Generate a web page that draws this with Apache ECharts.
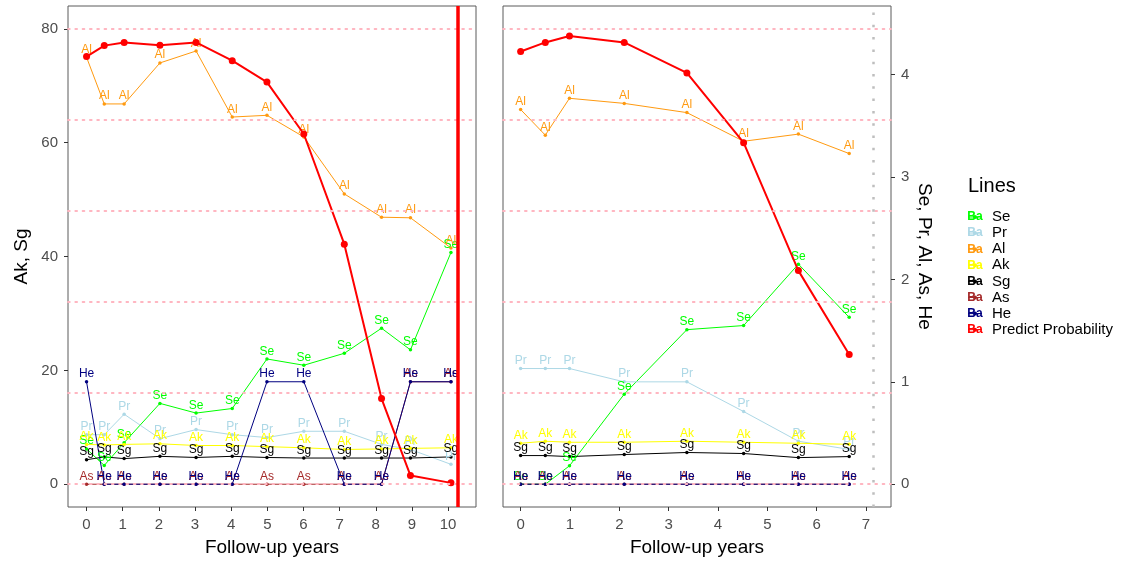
<!DOCTYPE html>
<html>
<head>
<meta charset="utf-8">
<script src="https://cdn.jsdelivr.net/npm/echarts@6/dist/echarts.min.js"></script>
<style>
  html, body { margin: 0; padding: 0; background: #ffffff; }
  #chart { width: 1135px; height: 564px; }
</style>
</head>
<body>
<div id="chart"></div>
<script>
// ---- Left panel (full follow-up) ----
const yearsLeft = [0, 0.49, 1.04, 2.03, 3.03, 4.03, 4.99, 6.01, 7.13, 8.16, 8.96, 10.08];
const leftSe = [6.2, 3.3, 7.3, 14.2, 12.5, 13.3, 22.0, 20.9, 23.0, 27.4, 23.6, 40.7];
const leftPr = [8.7, 8.7, 12.3, 8.0, 9.6, 8.7, 8.2, 9.3, 9.3, 7.0, 6.1, 3.5];
const leftAl = [75.0, 66.8, 66.8, 74.0, 76.1, 64.5, 64.8, 61.0, 51.0, 46.9, 46.8, 41.5];
const leftAk = [7.0, 6.9, 7.0, 7.1, 6.8, 6.8, 6.6, 6.4, 6.1, 6.2, 6.3, 6.4];
const leftSg = [4.3, 4.8, 4.5, 4.9, 4.7, 4.9, 4.7, 4.6, 4.6, 4.6, 4.6, 4.8];
const leftAs = [0, 0, 0, 0, 0, 0, 0, 0, 0, 0, 18, 18];
const leftHe = [18, 0, 0, 0, 0, 0, 18, 18, 0, 0, 18, 18];
const leftProb = [0.939, 0.963, 0.970, 0.964, 0.970, 0.930, 0.883, 0.769, 0.527, 0.188, 0.019, 0.003];
const leftCutoff = 10.26;

// ---- Right panel ----
const yearsRight = [0, 0.5, 0.99, 2.1, 3.37, 4.52, 5.63, 6.66];
const rightSe = [0, 0, 0.18, 0.88, 1.51, 1.55, 2.15, 1.63];
const rightPr = [1.13, 1.13, 1.13, 1.0, 1.0, 0.71, 0.42, 0.34];
const rightAl = [3.66, 3.41, 3.77, 3.72, 3.63, 3.35, 3.42, 3.23];
const rightAk = [0.40, 0.42, 0.41, 0.41, 0.42, 0.41, 0.40, 0.39];
const rightSg = [0.28, 0.28, 0.27, 0.29, 0.31, 0.30, 0.26, 0.27];
const rightAs = [0, 0, 0, 0, 0, 0, 0, 0];
const rightHe = [0, 0, 0, 0, 0, 0, 0, 0];
const rightProb = [0.950, 0.970, 0.984, 0.970, 0.903, 0.750, 0.469, 0.285];
const rightCutoff = 7.15;

// ---- Axis ticks ----
const leftXTicks = [0, 1, 2, 3, 4, 5, 6, 7, 8, 9, 10];
const rightXTicks = [0, 1, 2, 3, 4, 5, 6, 7];
const leftYTicks = [0, 20, 40, 60, 80];
const rightYTicks = [0, 1, 2, 3, 4];
const probGuides = [0, 0.2, 0.4, 0.6, 0.8, 1.0];

const markerNames = ['Se', 'Pr', 'Al', 'Ak', 'Sg', 'As', 'He'];
const legendNames = ['Se', 'Pr', 'Al', 'Ak', 'Sg', 'As', 'He', 'Predict Probability'];
const colors = {
  'Se': '#00FF00', 'Pr': '#ADD8E6', 'Al': '#FF9A10', 'Ak': '#FFFF00',
  'Sg': '#000000', 'As': '#A52A2A', 'He': '#000080', 'Predict Probability': '#FF0000'
};

const FONT = 'Liberation Sans, Arial, sans-serif';
const leftMarkers = { Se: leftSe, Pr: leftPr, Al: leftAl, Ak: leftAk, Sg: leftSg, As: leftAs, He: leftHe };
const rightMarkers = { Se: rightSe, Pr: rightPr, Al: rightAl, Ak: rightAk, Sg: rightSg, As: rightAs, He: rightHe };

// right-axis units per unit of probability, so both panels share the guide lines
const RIGHT_SCALE = 4.449;

function pairs(xs, ys) { return xs.map((x, i) => [x, ys[i]]); }

function markerSeries(name, xs, ys, xi, yi) {
  return {
    type: 'line', name: name, xAxisIndex: xi, yAxisIndex: yi,
    data: pairs(xs, ys),
    symbol: 'circle', symbolSize: 3.5, showSymbol: true,
    lineStyle: { color: colors[name], width: 1 },
    itemStyle: { color: colors[name] },
    label: {
      show: true, position: 'top', distance: 0, formatter: name,
      color: colors[name], fontSize: 12, fontFamily: FONT
    },
    emphasis: { disabled: true }, animation: false, z: 2
  };
}

function probSeries(xs, ps, xi, yi) {
  return {
    type: 'line', name: 'Predict Probability', xAxisIndex: xi, yAxisIndex: yi,
    data: pairs(xs, ps),
    symbol: 'circle', symbolSize: 7, showSymbol: true,
    lineStyle: { color: colors['Predict Probability'], width: 2 },
    itemStyle: { color: colors['Predict Probability'] },
    emphasis: { disabled: true }, animation: false, z: 3
  };
}

function guideSeries(xi, yi, vline) {
  return {
    type: 'line', xAxisIndex: xi, yAxisIndex: yi, data: [], silent: true,
    animation: false, z: 5,
    markLine: {
      silent: true, symbol: 'none', animation: false,
      label: { show: false },
      data: probGuides.map(v => ({
        yAxis: v,
        lineStyle: { color: '#FFB6C1', width: 1.8, type: [1.8, 5.5], cap: 'round' }
      })).concat([{ xAxis: vline.x, lineStyle: vline.style }])
    }
  };
}

const series = [];
markerNames.forEach(n => series.push(markerSeries(n, yearsLeft, leftMarkers[n], 0, 0)));
series.push(probSeries(yearsLeft, leftProb, 0, 1));
markerNames.forEach(n => series.push(markerSeries(n, yearsRight, rightMarkers[n], 1, 2)));
series.push(probSeries(yearsRight, rightProb, 1, 3));
series.push(guideSeries(0, 1, { x: leftCutoff, style: { color: '#FF0000', width: 3.5, type: 'solid' } }));
series.push(guideSeries(1, 3, { x: rightCutoff, style: { color: '#BEBEBE', width: 2.5, type: [2.5, 9.8] } }));

const tickStyle = { show: true, length: 4, lineStyle: { color: '#333333', width: 1 } };
const labelBase = { color: '#4D4D4D', fontSize: 15, fontFamily: FONT };

function xAxis(grid, min, max, ticks) {
  return {
    type: 'value', gridIndex: grid, min: min, max: max, position: 'bottom',
    axisLine: { show: false, onZero: false }, splitLine: { show: false },
    axisTick: Object.assign({ customValues: ticks }, tickStyle),
    axisLabel: Object.assign({ customValues: ticks, margin: 10 }, labelBase)
  };
}

// legend drawn as graphic: glyph + label
const legendGraphics = [{
  type: 'text', left: 968, top: 176,
  style: { text: 'Lines', fill: '#000', font: '20px ' + FONT }
}];
legendNames.forEach((n, i) => {
  const cy = 217 + i * 16.1;
  legendGraphics.push({
    type: 'line', shape: { x1: 968, y1: cy, x2: 982, y2: cy },
    style: { stroke: colors[n], lineWidth: 1 }
  });
  legendGraphics.push({
    type: 'circle', shape: { cx: 975, cy: cy, r: 2 },
    style: { fill: colors[n] }
  });
  legendGraphics.push({
    type: 'text', x: 975, y: cy,
    style: { text: 'Ba', fill: colors[n], font: 'bold 12px ' + FONT, align: 'center', verticalAlign: 'middle' }
  });
  legendGraphics.push({
    type: 'text', x: 992, y: cy,
    style: { text: n, fill: '#000', font: '15px ' + FONT, align: 'left', verticalAlign: 'middle' }
  });
});

const option = {
  backgroundColor: '#ffffff',
  animation: false,
  grid: [
    { left: 68, top: 6, width: 408, height: 501, show: true, borderColor: '#5A5A5A', borderWidth: 1, backgroundColor: 'transparent' },
    { left: 503, top: 6, width: 388, height: 501, show: true, borderColor: '#5A5A5A', borderWidth: 1, backgroundColor: 'transparent' }
  ],
  xAxis: [
    xAxis(0, -0.513, 10.773, leftXTicks),
    xAxis(1, -0.3575, 7.5075, rightXTicks)
  ],
  yAxis: [
    {
      type: 'value', gridIndex: 0, position: 'left', min: -4, max: 84,
      axisLine: { show: false, onZero: false }, splitLine: { show: false },
      axisTick: Object.assign({ customValues: leftYTicks }, tickStyle),
      axisLabel: Object.assign({ customValues: leftYTicks, margin: 10 }, labelBase)
    },
    { type: 'value', gridIndex: 0, min: -0.05, max: 1.05, show: false },
    {
      type: 'value', gridIndex: 1, position: 'right', min: -0.05 * RIGHT_SCALE, max: 1.05 * RIGHT_SCALE,
      axisLine: { show: false, onZero: false }, splitLine: { show: false },
      axisTick: Object.assign({ customValues: rightYTicks }, tickStyle),
      axisLabel: Object.assign({ customValues: rightYTicks, margin: 10 }, labelBase)
    },
    { type: 'value', gridIndex: 1, min: -0.05, max: 1.05, show: false }
  ],
  series: series,
  graphic: [
    { type: 'text', x: 22, y: 256.5, rotation: Math.PI / 2,
      style: { text: 'Ak, Sg', fill: '#000', font: '19px ' + FONT, align: 'center', verticalAlign: 'middle' } },
    { type: 'text', x: 924, y: 256.5, rotation: -Math.PI / 2,
      style: { text: 'Se, Pr, Al, As, He', fill: '#000', font: '19px ' + FONT, align: 'center', verticalAlign: 'middle' } },
    { type: 'text', x: 272, y: 548,
      style: { text: 'Follow-up years', fill: '#000', font: '19px ' + FONT, align: 'center', verticalAlign: 'middle' } },
    { type: 'text', x: 697, y: 548,
      style: { text: 'Follow-up years', fill: '#000', font: '19px ' + FONT, align: 'center', verticalAlign: 'middle' } }
  ].concat(legendGraphics)
};

const chart = echarts.init(document.getElementById('chart'), null, { renderer: 'canvas' });
chart.setOption(option);
</script>
</body>
</html>
